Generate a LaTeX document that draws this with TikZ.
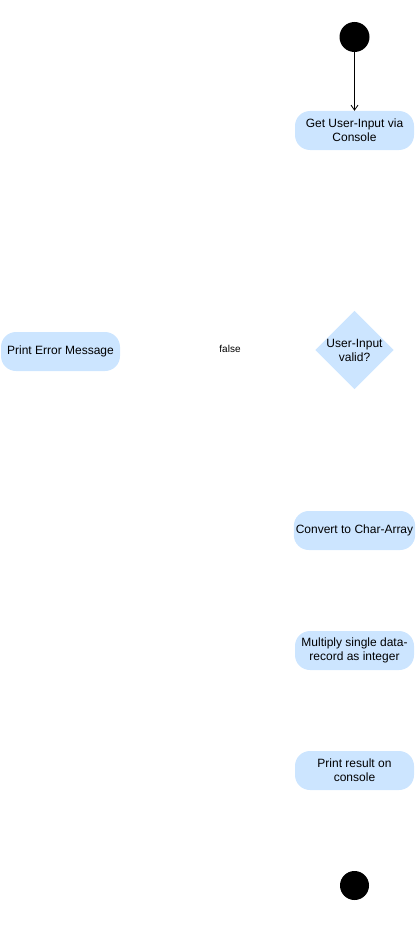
\documentclass[tikz,border=0pt]{standalone}
\usepackage{fontspec}
\setmainfont{Liberation Sans}
\usetikzlibrary{shapes.geometric,arrows.meta}
\definecolor{actfill}{HTML}{CCE5FF}
\tikzset{
  act/.style={rectangle, rounded corners=15pt, fill=actfill, draw=none, minimum width=119pt, minimum height=39pt, align=center, inner sep=2pt, font=\fontsize{12}{14}\selectfont},
  dec/.style={diamond, fill=actfill, draw=none, minimum width=78pt, minimum height=78pt, inner sep=0pt, align=center, font=\fontsize{12}{14}\selectfont},
  terminal/.style={circle, fill=black, draw=none, minimum size=30pt, inner sep=0pt},
  lbl/.style={font=\fontsize{10}{12}\selectfont},
  flow/.style={draw=black, line width=0.8pt, -{Straight Barb[length=5pt,width=7pt]}}
}
\begin{document}
\begin{tikzpicture}[x=1pt,y=-1pt]
\useasboundingbox (0,0) rectangle (415,931);
\node[terminal] (start) at (354.5,37) {};
\node[act] (get) at (354.5,130.5) {Get User-Input via\\Console};
\node[dec] (valid) at (354.5,350) {User-Input\\valid?};
\node[act] (err) at (60.5,351.5) {Print Error Message};
\node[lbl] (false) at (230,349) {false};
\node[act] (conv) at (354.5,530.5) {Convert to Char-Array};
\node[act] (mult) at (354.5,650.5) {Multiply single data-\\record as integer};
\node[act] (res) at (354.5,770.5) {Print result on\\console};
\node[terminal, minimum size=29pt] (stop) at (354.5,885.5) {};
\draw[flow] (start) -- (get);
\end{tikzpicture}
\end{document}
